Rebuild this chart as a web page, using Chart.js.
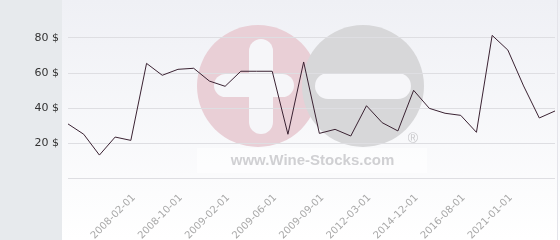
<!DOCTYPE html>
<html>
<head>
<meta charset="utf-8">
<script src="https://cdn.jsdelivr.net/npm/chart.js@4"></script>
<style>
  html, body { margin: 0; padding: 0; background: #fff; }
  #wrap { width: 560px; height: 240px; }
</style>
</head>
<body>
<div id="wrap"><canvas id="priceCht" width="560" height="240"></canvas></div>
<script>
// values
let dates = ['', '', '', '', '2008-02-01', '', '', '2008-10-01', '', '', '2009-02-01', '', '', '2009-06-01', '', '',
    '2009-09-01', '', '', '2012-03-01', '', '', '2014-12-01', '', '', '2016-08-01', '', '', '2021-01-01', '', '', ''];
let prices = [30.9, 25.0, 13.1, 23.4, 21.5, 65.5, 58.7, 62.1, 62.7, 55.4, 52.4, 61.0, 61.0, 61.0, 25.0, 66.3,
    25.5, 27.8, 24.0, 41.3, 31.6, 26.9, 50.1, 39.8, 37.0, 35.8, 26.1, 81.5, 73.1, 52.6, 34.3, 38.3];
let yTicks = [20, 40, 60, 80];

// pill shape, works for horizontal and vertical bars
function pill(ctx, x, y, w, h) {
    var r = Math.min(w, h) / 2;
    ctx.beginPath();
    if (w >= h) {
        ctx.moveTo(x + r, y);
        ctx.lineTo(x + w - r, y);
        ctx.arc(x + w - r, y + r, r, -Math.PI / 2, Math.PI / 2);
        ctx.lineTo(x + r, y + h);
        ctx.arc(x + r, y + r, r, Math.PI / 2, Math.PI * 1.5);
    } else {
        ctx.moveTo(x + w, y + r);
        ctx.lineTo(x + w, y + h - r);
        ctx.arc(x + r, y + h - r, r, 0, Math.PI);
        ctx.lineTo(x, y + r);
        ctx.arc(x + r, y + r, r, Math.PI, Math.PI * 2);
    }
    ctx.closePath();
    ctx.fill();
}

// background, left panel and the wine-stocks watermark
var backdrop = {
    id: 'backdrop',
    beforeDraw: function(chart) {
        var ctx = chart.ctx;
        ctx.save();
        var g = ctx.createLinearGradient(0, 0, 0, 240);
        g.addColorStop(0, '#eff0f5');
        g.addColorStop(1, '#ffffff');
        ctx.fillStyle = g;
        ctx.fillRect(62, 0, 498, 240);
        ctx.fillStyle = '#e7eaed';
        ctx.fillRect(0, 0, 62, 240);
        ctx.fillStyle = '#e4e4ea';
        ctx.fillRect(557, 0, 1, 240);

        ctx.fillStyle = 'rgba(255,255,255,0.55)';
        ctx.fillRect(197, 148, 230, 25);

        ctx.fillStyle = '#e9cfd6';
        ctx.beginPath();
        ctx.arc(258, 86, 61, 0, Math.PI * 2);
        ctx.fill();
        ctx.fillStyle = '#d7d7d9';
        ctx.beginPath();
        ctx.arc(363, 86, 61, 0, Math.PI * 2);
        ctx.fill();

        ctx.fillStyle = '#f6f6f9';
        pill(ctx, 249, 39, 24, 95);
        pill(ctx, 214, 74, 80, 23);
        pill(ctx, 315, 73, 96, 26);

        ctx.fillStyle = '#d0d0d3';
        ctx.font = 'bold 15px "Liberation Sans", Arial, sans-serif';
        ctx.textAlign = 'center';
        ctx.textBaseline = 'middle';
        ctx.fillText('www.Wine-Stocks.com', 312.5, 161);
        ctx.fillStyle = '#c9c9cc';
        ctx.font = '14px "Liberation Sans", Arial, sans-serif';
        ctx.fillText('\u00AE', 413, 139);
        ctx.restore();
    }
};

var ctx = document.getElementById('priceCht');
var priceChart = new Chart(ctx, {
    type: 'line',
    data: {
        labels: dates,
        datasets: [{
            label: 'Price',
            data: prices,
            borderColor: '#3a2232',
            borderWidth: 1,
            pointRadius: 0,
            tension: 0,
            fill: false
        }]
    },
    options: {
        responsive: false,
        animation: false,
        layout: { padding: { top: 3, right: 5, left: 0, bottom: 0 } },
        plugins: {
            legend: { display: false },
            tooltip: { enabled: false }
        },
        scales: {
            x: {
                grid: { display: false },
                border: { display: false },
                afterFit: function(scale) {
                    scale.height = 62;
                    scale.paddingLeft = 0;
                    scale.paddingRight = 0;
                },
                ticks: {
                    autoSkip: false,
                    maxRotation: 45,
                    minRotation: 45,
                    padding: 6,
                    labelOffset: 3,
                    color: '#a8a8a8',
                    font: { family: '"DejaVu Sans", Verdana, sans-serif', size: 10 }
                }
            },
            y: {
                min: 0,
                max: 100,
                afterFit: function(scale) {
                    scale.width = 68;
                    scale.paddingTop = 0;
                    scale.paddingBottom = 0;
                },
                afterBuildTicks: function(scale) {
                    scale.ticks = [0].concat(yTicks, [100]).map(function(v) { return { value: v }; });
                },
                border: { display: false },
                grid: {
                    drawTicks: false,
                    color: function(c) { return c.tick && c.tick.value === 100 ? 'rgba(0,0,0,0)' : '#dedee2'; }
                },
                ticks: {
                    padding: 9,
                    color: '#333333',
                    font: { family: '"DejaVu Sans", Verdana, sans-serif', size: 11 },
                    callback: function(v) { return yTicks.indexOf(v) >= 0 ? v + ' $' : ''; }
                }
            }
        }
    },
    plugins: [backdrop]
});
</script>
</body>
</html>
